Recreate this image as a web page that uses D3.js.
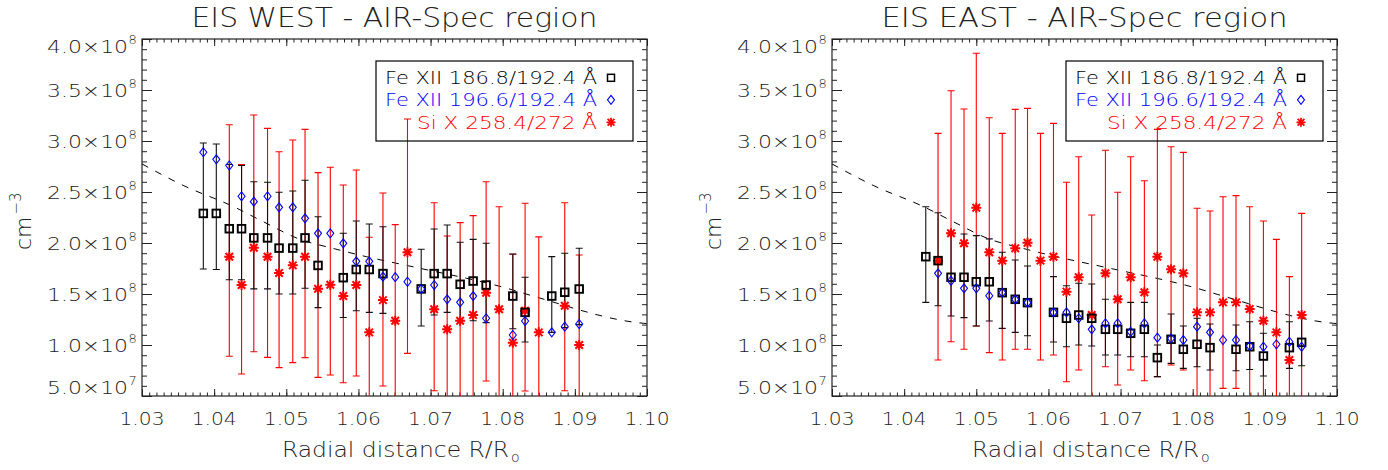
<!DOCTYPE html>
<html><head><meta charset="utf-8">
<script src="https://cdn.jsdelivr.net/npm/d3@7"></script>
<style>
body{margin:0;background:#fff}
svg{display:block}
text{font-family:"DejaVu Sans",sans-serif;font-weight:200;fill:#222}
</style>
</head><body>
<svg id="chart" width="1388" height="470"></svg>
<script>
// ---------- data (densities in units of 1e8 cm^-3) ----------
const xTickValues = [1.03, 1.04, 1.05, 1.06, 1.07, 1.08, 1.09, 1.10];
const xTickLabels = ["1.03", "1.04", "1.05", "1.06", "1.07", "1.08", "1.09", "1.10"];
const yTickValues = [0.5, 1.0, 1.5, 2.0, 2.5, 3.0, 3.5, 4.0];
const yTickMantissa = ["5.0", "1.0", "1.5", "2.0", "2.5", "3.0", "3.5", "4.0"];
const yTickExponent = ["7", "8", "8", "8", "8", "8", "8", "8"];
const legendLabels = ["Fe XII 186.8/192.4 Å", "Fe XII 196.6/192.4 Å", "Si X 258.4/272 Å"];
const panelTitles = ["EIS WEST - AIR-Spec region", "EIS EAST - AIR-Spec region"];

// dashed model curve (same on both panels)
const curveR = [1.030, 1.0357, 1.0427, 1.0468, 1.0519, 1.0561, 1.0611, 1.0680, 1.0806, 1.0842, 1.0995, 1.100];
const curveN = [2.775, 2.565, 2.356, 2.209, 2.036, 1.954, 1.866, 1.760, 1.556, 1.480, 1.213, 1.210];

// WEST: Fe XII 186.8/192.4 (black squares)
const westFeAR  = [1.0385,1.0403,1.0421,1.0438,1.0455,1.0474,1.0490,1.0509,1.0526,1.0544,1.0579,1.0597,1.0615,1.0634,1.0687,1.0705,1.0723,1.0741,1.0759,1.0777,1.0814,1.0831,1.0868,1.0886,1.0906];
const westFeAN  = [2.29,2.29,2.14,2.14,2.05,2.05,1.95,1.95,2.05,1.78,1.66,1.74,1.74,1.70,1.55,1.70,1.70,1.595,1.627,1.588,1.48,1.32,1.48,1.517,1.549];
const westFeALo = [1.745,1.74,1.64,1.64,1.55,1.55,1.50,1.50,1.556,1.366,1.27,1.336,1.32,1.31,1.186,1.294,1.32,1.238,1.238,1.219,1.16,1.03,1.124,1.17,1.20];
const westFeAHi = [2.98,2.97,2.77,2.76,2.60,2.595,2.497,2.51,2.615,2.258,2.095,2.216,2.186,2.16,1.938,2.137,2.176,2.007,2.036,1.997,1.892,1.664,1.866,1.899,1.948];
// WEST: Fe XII 196.6/192.4 (blue diamonds)
const westFeBR = [1.0385,1.0403,1.0421,1.0438,1.0455,1.0474,1.0490,1.0509,1.0526,1.0544,1.0561,1.0579,1.0597,1.0615,1.0634,1.0651,1.0668,1.0687,1.0705,1.0723,1.0741,1.0759,1.0777,1.0814,1.0831,1.0868,1.0886,1.0906];
const westFeBN = [2.89,2.82,2.76,2.458,2.405,2.458,2.35,2.35,2.242,2.095,2.095,1.997,1.82,1.82,1.67,1.665,1.62,1.549,1.588,1.448,1.418,1.48,1.262,1.098,1.235,1.124,1.18,1.206];
// WEST: Si X 258.4/272 (red asterisks)
const westSiR  = [1.0421,1.0438,1.0455,1.0474,1.0490,1.0509,1.0526,1.0544,1.0561,1.0579,1.0597,1.0615,1.0634,1.0651,1.0668,1.0705,1.0723,1.0741,1.0759,1.0777,1.0795,1.0814,1.0831,1.0850,1.0886,1.0906];
const westSiN  = [1.866,1.588,1.954,1.866,1.706,1.781,1.866,1.552,1.591,1.48,1.588,1.124,1.44,1.238,1.909,1.35,1.154,1.238,1.294,1.513,1.35,1.023,1.336,1.124,1.385,1.0];
const westSiLo = [0.89,0.716,0.934,0.879,0.778,0.827,0.876,0.683,0.706,0.63,0.696,0.4,0.598,0.4,0.918,0.552,0.4,0.4,0.4,0.647,0.4,0.4,0.549,0.4,0.552,0.4];
const westSiHi = [3.16,2.77,3.255,3.124,2.895,3.01,3.114,2.69,2.742,2.569,2.716,2.056,2.49,2.18,3.216,2.395,2.069,2.20,2.268,2.60,2.356,1.89,2.39,2.06,2.395,1.882];

// EAST: Fe XII 186.8/192.4 (black squares)
const eastFeAR  = [1.0430,1.0447,1.0465,1.0483,1.0500,1.0518,1.0536,1.0554,1.0571,1.0607,1.0625,1.0642,1.0660,1.0679,1.0696,1.0714,1.0733,1.0751,1.0770,1.0787,1.0806,1.0824,1.0860,1.0879,1.0898,1.0934,1.0951];
const eastFeAN  = [1.866,1.827,1.664,1.664,1.62,1.62,1.513,1.448,1.415,1.32,1.262,1.294,1.262,1.154,1.154,1.115,1.154,0.876,1.056,0.958,1.007,0.974,0.958,0.983,0.892,0.974,1.026];
const eastFeALo = [1.418,1.385,1.284,1.268,1.186,1.235,1.163,1.124,1.091,1.03,0.983,1.0,0.99,0.902,0.902,0.885,0.885,0.69,0.82,0.771,0.787,0.755,0.748,0.76,0.696,0.771,0.797];
const eastFeAHi = [2.356,2.297,2.088,2.088,2.072,2.04,1.909,1.833,1.775,1.67,1.581,1.605,1.598,1.448,1.458,1.418,1.418,1.0,1.304,1.186,1.262,1.206,1.196,1.228,1.115,1.228,1.294];
// EAST: Fe XII 196.6/192.4 (blue diamonds)
const eastFeBR = [1.0447,1.0465,1.0483,1.0500,1.0518,1.0536,1.0554,1.0571,1.0607,1.0625,1.0642,1.0660,1.0679,1.0696,1.0714,1.0733,1.0751,1.0770,1.0787,1.0806,1.0824,1.0842,1.0860,1.0879,1.0898,1.0916,1.0934,1.0951];
const eastFeBN = [1.703,1.63,1.556,1.556,1.483,1.513,1.448,1.415,1.32,1.32,1.262,1.154,1.213,1.213,1.13,1.213,1.072,1.064,1.049,1.18,1.124,1.049,1.049,0.99,0.983,1.007,1.032,0.983];
// EAST: Si X 258.4/272 (red asterisks)
const eastSiR  = [1.0447,1.0465,1.0483,1.0500,1.0518,1.0536,1.0554,1.0571,1.0589,1.0607,1.0625,1.0642,1.0660,1.0679,1.0696,1.0714,1.0733,1.0751,1.0770,1.0787,1.0806,1.0824,1.0842,1.0860,1.0879,1.0898,1.0916,1.0934,1.0951];
const eastSiN  = [1.827,2.095,1.997,2.346,1.909,1.827,1.948,2.003,1.827,1.866,1.523,1.664,1.294,1.703,1.448,1.664,1.517,1.866,1.742,1.703,1.32,1.32,1.418,1.418,1.353,1.238,1.124,0.853,1.294];
const eastSiLo = [0.853,1.032,0.958,1.186,0.925,0.853,0.958,0.958,0.853,0.902,0.64,0.755,0.4,0.787,0.608,0.755,0.65,0.69,0.804,0.755,0.4,0.4,0.575,0.575,0.4,0.4,0.4,0.4,0.4];
const eastSiHi = [3.075,3.493,3.314,3.86,3.228,3.075,3.31,3.32,3.075,3.173,2.595,2.846,2.275,2.91,2.497,2.846,2.61,3.114,2.944,2.888,2.34,2.314,2.454,2.464,2.356,2.216,2.036,1.67,2.29];

// ---------- drawing ----------
const svg = d3.select("#chart");
const BLACK = "#000", BLUE = "#0000ff", RED = "#ff0000";

function zip(r, n, lo, hi) { return r.map((v, i) => ({r: v, n: n[i], lo: lo ? lo[i] : null, hi: hi ? hi[i] : null})); }

function starPath(s) {
  const d = s * 0.75;
  return `M0,${-s}V${s}M${-s},0H${s}M${-d},${-d}L${d},${d}M${-d},${d}L${d},${-d}`;
}

function drawPanel(idx, left, fe186, fe196, si) {
  const top = 39, W = 505, Hh = 357, bottom = top + Hh, right = left + W;
  const g = svg.append("g");
  const x = d3.scaleLinear().domain([1.03, 1.10]).range([left, right]);
  const y = d3.scaleLinear().domain([0.5, 4.0]).range([bottom, top]);

  const clipId = "clip" + idx;
  svg.append("clipPath").attr("id", clipId).append("rect")
    .attr("x", left).attr("y", top).attr("width", W).attr("height", Hh);

  // minor / major ticks on all four sides (inward)
  const xMinor = d3.range(71).map(i => 1.03 + i * 0.001);
  const yMinor = d3.range(36).map(i => 0.5 + i * 0.1);
  const tickStyle = sel => { sel.select(".domain").remove(); sel.selectAll("line").attr("stroke", "#222").attr("stroke-width", 1); sel.selectAll("text").remove(); };
  g.append("g").attr("transform", `translate(0,${bottom})`).call(d3.axisBottom(x).tickValues(xMinor).tickSize(-3.5)).call(tickStyle);
  g.append("g").attr("transform", `translate(0,${bottom})`).call(d3.axisBottom(x).tickValues(xTickValues).tickSize(-7)).call(tickStyle);
  g.append("g").attr("transform", `translate(0,${top})`).call(d3.axisTop(x).tickValues(xMinor).tickSize(-3.5)).call(tickStyle);
  g.append("g").attr("transform", `translate(0,${top})`).call(d3.axisTop(x).tickValues(xTickValues).tickSize(-7)).call(tickStyle);
  g.append("g").attr("transform", `translate(${left},0)`).call(d3.axisLeft(y).tickValues(yMinor).tickSize(-5)).call(tickStyle);
  g.append("g").attr("transform", `translate(${left},0)`).call(d3.axisLeft(y).tickValues(yTickValues).tickSize(-10)).call(tickStyle);
  g.append("g").attr("transform", `translate(${right},0)`).call(d3.axisRight(y).tickValues(yMinor).tickSize(-5)).call(tickStyle);
  g.append("g").attr("transform", `translate(${right},0)`).call(d3.axisRight(y).tickValues(yTickValues).tickSize(-10)).call(tickStyle);

  // frame
  g.append("rect").attr("x", left).attr("y", top).attr("width", W).attr("height", Hh)
    .attr("fill", "none").attr("stroke", "#222").attr("stroke-width", 1.2);

  // x tick labels
  g.selectAll(".xl").data(xTickValues).enter().append("text")
    .attr("x", d => x(d)).attr("y", 425).attr("text-anchor", "middle")
    .attr("font-size", 18).attr("textLength", 45).attr("lengthAdjust", "spacingAndGlyphs")
    .text((d, i) => xTickLabels[i]);

  // y tick labels: mantissa x 10^exp
  yTickValues.forEach((v, i) => {
    const cy = Math.max(top + 7, Math.min(bottom - 9, y(v)));
    const base = cy + 6.5;
    g.append("text").attr("x", left - 95).attr("y", base).attr("font-size", 18)
      .attr("textLength", 81).attr("lengthAdjust", "spacingAndGlyphs")
      .text(yTickMantissa[i] + "×10");
    g.append("text").attr("x", left - 13.5).attr("y", base - 9).attr("font-size", 13)
      .text(yTickExponent[i]);
  });

  // axis titles
  const xt = g.append("text").attr("x", left + 140).attr("y", 456.5).attr("font-size", 21);
  xt.append("tspan").attr("textLength", 227).attr("lengthAdjust", "spacingAndGlyphs").text("Radial distance R/R");
  xt.append("tspan").attr("font-size", 14).attr("dy", 5).attr("dx", 2).text("o");

  const yt = g.append("g").attr("transform", `translate(${left - 111},250) rotate(-90)`);
  const ytt = yt.append("text").attr("x", 0).attr("y", 0).attr("font-size", 22);
  ytt.append("tspan").text("cm");
  ytt.append("tspan").attr("font-size", 15).attr("dy", -10).attr("dx", 2).text("−3");

  // title
  g.append("text").attr("x", left + W / 2).attr("y", 26.5).attr("text-anchor", "middle")
    .attr("font-size", 26).attr("textLength", 406).attr("lengthAdjust", "spacingAndGlyphs")
    .text(panelTitles[idx]);

  // data layer
  const dg = g.append("g").attr("clip-path", `url(#${clipId})`);

  // dashed curve
  const curve = curveR.map((r, i) => [r, curveN[i]]);
  dg.append("path").datum(curve)
    .attr("d", d3.line().x(d => x(d[0])).y(d => y(d[1])).curve(d3.curveMonotoneX))
    .attr("fill", "none").attr("stroke", "#000").attr("stroke-width", 1).attr("stroke-dasharray", "7,8");

  function errbars(data, color, width) {
    const eg = dg.append("g").attr("stroke", color).attr("stroke-width", width).attr("fill", "none");
    eg.selectAll("path").data(data).enter().append("path")
      .attr("d", d => {
        const xx = x(d.r), y1 = y(d.lo), y2 = y(d.hi);
        return `M${xx},${y1}V${y2}M${xx - 3.5},${y1}H${xx + 3.5}M${xx - 3.5},${y2}H${xx + 3.5}`;
      });
  }
  errbars(si, RED, 1.1);
  errbars(fe186, "#111", 1.1);

  // markers
  dg.append("g").selectAll("path").data(si).enter().append("path")
    .attr("transform", d => `translate(${x(d.r)},${y(d.n)})`)
    .attr("d", starPath(5)).attr("stroke", RED).attr("stroke-width", 2).attr("fill", "none");
  dg.append("g").selectAll("rect").data(fe186).enter().append("rect")
    .attr("x", d => x(d.r) - 3.8).attr("y", d => y(d.n) - 3.8).attr("width", 7.6).attr("height", 7.6)
    .attr("fill", "none").attr("stroke", BLACK).attr("stroke-width", 1.9);
  dg.append("g").selectAll("path").data(fe196).enter().append("path")
    .attr("transform", d => `translate(${x(d.r)},${y(d.n)})`)
    .attr("d", "M0,-4.5L3.5,0L0,4.5L-3.5,0Z").attr("stroke", BLUE).attr("stroke-width", 1.1).attr("fill", "none");

  // legend
  const lx = left + 234, ly = 61;
  g.append("rect").attr("x", lx).attr("y", ly).attr("width", 257).attr("height", 80)
    .attr("fill", "none").attr("stroke", "#000").attr("stroke-width", 1.2);
  const rowBase = [84.3, 106.3, 128.8];
  const rowColor = [BLACK, BLUE, RED];
  const rowLen = [212, 212, 180];
  legendLabels.forEach((t, i) => {
    g.append("text").attr("x", left + 455).attr("y", rowBase[i]).attr("text-anchor", "end")
      .attr("font-size", 18).attr("textLength", rowLen[i]).attr("lengthAdjust", "spacingAndGlyphs")
      .style("fill", rowColor[i]).text(t);
  });
  const sx = left + 469;
  g.append("rect").attr("x", sx - 3.5).attr("y", rowBase[0] - 10).attr("width", 7).attr("height", 7)
    .attr("fill", "none").attr("stroke", BLACK).attr("stroke-width", 1.5);
  g.append("path").attr("transform", `translate(${sx},${rowBase[1] - 6.5})`)
    .attr("d", "M0,-4.5L3.5,0L0,4.5L-3.5,0Z").attr("stroke", BLUE).attr("stroke-width", 1.1).attr("fill", "none");
  g.append("path").attr("transform", `translate(${sx},${rowBase[2] - 6.5})`)
    .attr("d", starPath(4.5)).attr("stroke", RED).attr("stroke-width", 1.8).attr("fill", "none");
}

drawPanel(0, 142, zip(westFeAR, westFeAN, westFeALo, westFeAHi), zip(westFeBR, westFeBN), zip(westSiR, westSiN, westSiLo, westSiHi));
drawPanel(1, 832, zip(eastFeAR, eastFeAN, eastFeALo, eastFeAHi), zip(eastFeBR, eastFeBN), zip(eastSiR, eastSiN, eastSiLo, eastSiHi));
</script>
</body></html>
